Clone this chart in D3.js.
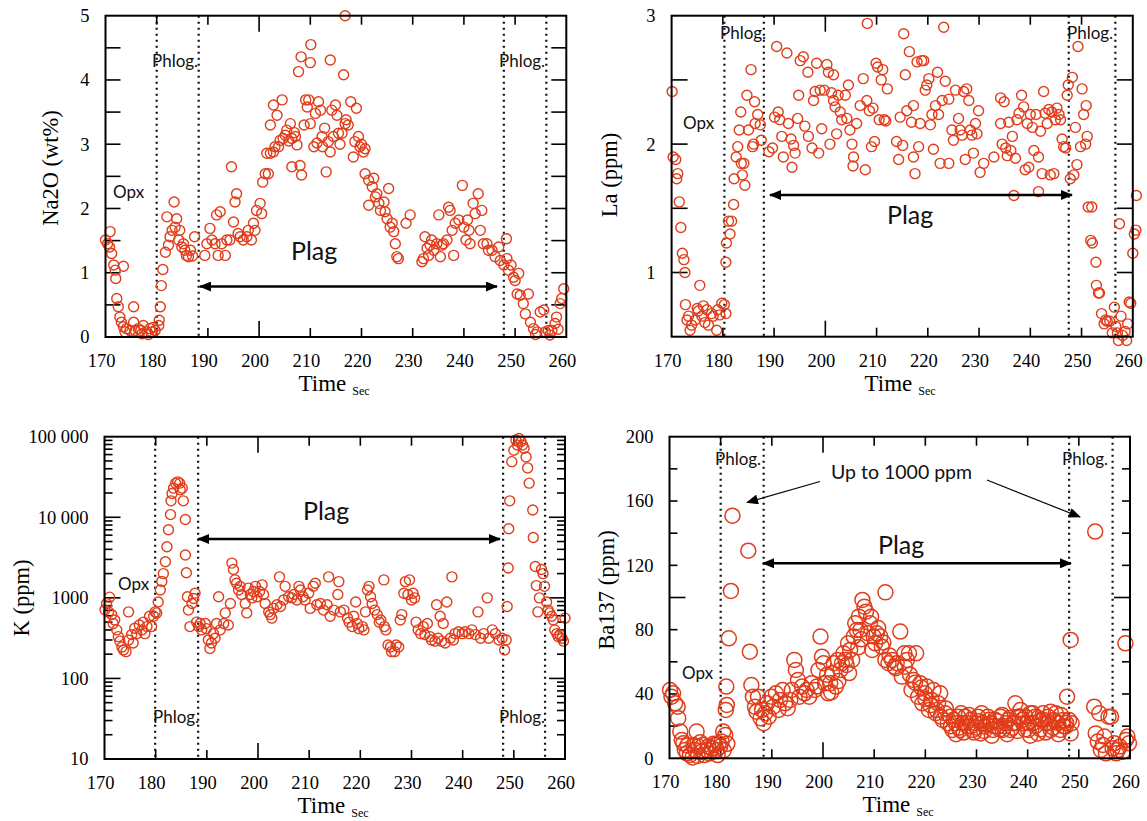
<!DOCTYPE html>
<html>
<head>
<meta charset="utf-8">
<script src="https://cdn.jsdelivr.net/npm/d3@7"></script>
<style>
  body { margin: 0; background: #fff; }
  svg { display: block; }
</style>
</head>
<body>
<div id="chart"></div>
<script>
// ---- data: [time (s), value] ----
const na2o = [[170.0,1.51],[170.4,1.45],[170.9,1.64],[170.8,1.40],[171.2,1.30],[171.6,1.12],[171.9,1.04],[172.0,0.91],[173.5,1.10],[172.2,0.60],[172.5,0.47],[172.8,0.31],[173.1,0.23],[173.5,0.16],[173.8,0.08],[174.1,0.13],[174.8,0.10],[175.5,0.47],[175.5,0.23],[175.8,0.10],[176.4,0.13],[177.1,0.05],[177.4,0.18],[178.1,0.08],[178.7,0.13],[179.0,0.08],[179.7,0.10],[176.9,0.10],[178.4,0.04],[179.3,0.15],
  [180.4,0.18],[180.5,0.26],[180.7,0.47],[180.9,0.80],[181.2,1.05],[181.7,1.32],[182.3,1.43],[182.0,1.87],[182.6,1.56],[183.0,1.66],[183.4,2.10],[183.6,1.71],[183.9,1.84],[184.3,1.51],[184.5,1.66],[184.9,1.40],[185.2,1.45],[185.5,1.35],[185.8,1.27],[186.2,1.25],[186.6,1.35],[187.0,1.26],[187.4,1.56],
  [189.4,1.27],[189.8,1.45],[190.4,1.69],[190.8,1.51],[191.4,1.45],[191.7,1.90],[192.4,1.95],[192.0,1.27],[192.7,1.45],[193.4,1.27],[193.7,1.51],[194.3,1.51],[194.6,2.65],[195.0,1.79],[195.3,2.10],[195.6,2.23],[195.9,1.61],[196.3,1.56],[196.9,1.51],[197.6,1.56],[197.9,1.66],[198.5,1.51],[198.9,1.77],[199.2,1.66],[199.5,1.97],[200.2,2.08],[200.5,1.92],[200.7,2.41],[201.2,2.54],[201.8,2.54],[201.5,2.86],[202.2,2.86],[202.8,2.88],[203.1,2.96],[203.8,2.96],[204.1,3.06],[204.7,3.09],[205.1,3.14],[205.4,3.22],[204.5,3.69],[202.8,3.61],[203.5,3.45],[202.2,3.30],
  [206.1,3.32],[206.4,3.09],[207.1,3.12],[207.4,2.99],[206.4,2.65],[208.0,2.67],[208.3,2.52],[207.7,4.13],[208.2,4.36],[210.1,4.55],[210.0,4.27],[208.8,3.30],[209.1,3.69],[209.7,3.69],[209.4,3.58],[210.0,3.32],[210.7,2.96],[211.0,3.48],[211.6,3.66],[212.0,3.53],[212.3,3.12],[212.4,2.96],[213.1,2.57],[213.5,3.04],[213.9,4.31],[213.9,2.88],[214.2,3.53],[214.5,3.12],[214.9,3.61],[215.2,3.45],[215.5,3.17],[216.2,3.17],[216.5,4.08],[216.8,5.0],[216.8,3.32],[217.4,3.30],[217.9,3.66],[218.4,2.80],[219.0,3.56],[219.4,3.12],[219.7,2.96],[220.4,2.88],[220.7,2.93],[205.8,3.05],[206.9,3.18],[211.3,3.02],[212.8,3.25],[215.8,3.00],[217.0,3.38],[218.7,3.04],[220.0,3.00],
  [220.7,2.54],[221.4,2.44],[221.4,2.05],[222.1,2.34],[222.4,2.47],[222.7,2.18],[223.0,2.23],[223.4,2.08],[223.7,1.97],[224.4,2.10],[224.6,1.95],[225.0,1.84],[225.3,2.31],[225.6,1.71],[226.0,1.77],[226.3,1.64],[226.6,1.45],[226.9,1.25],[227.2,1.22],[228.7,1.77],[229.5,1.90],
  [231.8,1.17],[232.1,1.22],[232.4,1.56],[232.8,1.38],[233.1,1.27],[233.4,1.43],[233.7,1.51],[234.1,1.35],[234.7,1.45],[235.1,1.90],[235.4,1.25],[235.7,1.43],[236.0,1.45],[236.7,1.51],[237.0,2.02],[237.3,1.97],[238.0,1.27],[237.7,1.66],[238.3,1.77],[239.0,1.82],[239.7,2.36],[240.0,1.71],[240.4,1.51],[240.7,1.82],[241.0,1.66],[241.2,1.45],[241.8,2.08],[242.2,1.92],[242.8,2.23],[243.2,1.66],[243.5,1.97],[243.8,1.45],[244.5,1.45],[244.8,1.35],[245.5,1.35],[246.1,1.25],[246.8,1.40],[247.1,1.19],[247.8,1.12],[248.3,1.53],[248.4,1.22],[248.7,1.04],[249.2,1.12],[249.7,0.93],[250.0,0.88],[250.7,0.99],[250.4,0.67],[251.0,0.65],[251.6,0.52],[252.0,0.36],[252.6,0.67],[253.0,0.23],[253.6,0.13],[254.3,0.08],[254.9,0.39],[255.6,0.42],[255.9,0.08],[256.5,0.10],[257.2,0.10],[257.8,0.21],[258.1,0.31],[258.8,0.52],[259.1,0.60],[259.5,0.75],[254.0,0.04],[256.8,0.03],[258.4,0.12]];

const la = [[170.1,2.41],[170.3,1.90],[170.8,1.88],[171.2,1.77],[171.0,1.73],[171.5,1.55],[171.8,1.35],[172.1,1.15],[172.4,1.10],[172.6,1.00],[172.7,0.75],[173.3,0.66],[173.0,0.63],[173.6,0.55],[173.9,0.59],[174.6,0.63],[175.0,0.72],[175.5,0.90],[175.2,0.70],[175.9,0.66],[176.2,0.74],[176.5,0.61],[176.9,0.71],[177.2,0.59],[177.8,0.68],[178.1,0.66],[178.8,0.55],[179.0,0.71],[179.4,0.67],[179.8,0.76],[180.3,0.75],[180.6,0.68],
  [180.6,1.08],[180.7,1.23],[181.4,1.30],[181.1,1.40],[181.7,1.40],[182.1,1.53],[182.2,1.73],[182.6,1.90],[182.9,1.98],[183.2,2.11],[183.5,2.25],[183.6,1.85],[184.1,1.85],[183.8,1.76],[184.3,1.68],[184.7,2.38],[185.0,2.11],[185.5,2.58],[185.8,1.98],[186.2,2.33],[186.0,2.00],[186.3,2.16],[186.8,2.23],[187.3,2.15],[187.5,2.03],
  [189.0,1.94],[189.7,1.97],[190.1,2.21],[190.5,2.76],[190.8,2.25],[191.1,2.19],[191.5,2.06],[191.8,1.90],[192.5,2.71],[192.8,2.16],[193.3,2.04],[193.5,1.82],[193.8,1.99],[194.1,1.93],[194.6,2.20],[194.8,2.38],[195.1,2.65],[195.7,2.68],[196.0,2.14],[196.6,2.56],[196.7,2.06],[197.4,1.97],[197.7,2.34],[198.0,2.41],[198.3,2.63],[198.7,1.93],[199.0,2.42],[199.3,2.12],[199.8,2.42],[200.3,2.62],[200.6,2.56],[200.9,2.00],[201.2,2.40],[201.6,2.34],[201.6,2.54],[201.9,2.29],[202.2,2.08],[202.5,2.38],[202.9,2.25],[203.2,2.19],[203.9,2.38],[204.2,2.20],[204.5,2.46],[204.8,2.11],[205.2,2.00],[205.5,1.90],[205.4,1.83],[206.1,2.16],[206.8,2.30],[207.4,2.51],[207.8,1.80],[208.1,2.34],[208.2,2.94],[208.6,2.26],[209.0,1.98],[209.3,2.28],[209.6,2.02],[209.9,2.63],[210.2,2.60],[210.5,2.19],[210.9,2.50],[211.2,2.58],[211.5,2.19],[212.1,2.43],[211.8,2.18],
  [213.9,2.02],[214.3,1.88],[214.6,2.21],[215.1,1.99],[215.3,2.86],[215.6,2.54],[215.9,2.26],[216.4,2.72],[216.8,2.17],[217.2,1.90],[217.2,2.30],[217.5,1.77],[217.9,2.64],[218.2,1.98],[218.5,2.16],[218.8,2.65],[219.2,2.65],[219.5,2.42],[219.8,2.46],[220.2,2.51],[220.5,2.15],[220.8,2.23],[221.1,1.96],[221.5,2.30],[221.9,2.56],[222.1,2.23],[222.4,1.85],[222.8,2.34],[223.1,2.91],[223.4,2.49],[224.1,1.85],[224.1,2.35],[224.7,2.11],[225.0,2.03],[225.4,2.42],[226.0,2.20],[226.3,2.11],[226.7,2.07],[227.0,2.41],[227.3,1.88],[227.6,2.43],[228.0,2.34],[228.3,2.11],[228.6,2.07],[228.9,1.93],[229.3,2.16],[229.6,2.08],[229.9,2.26],[230.2,1.78],[230.9,1.85],[232.9,1.90],
  [234.2,2.36],[234.2,2.16],[234.5,2.00],[234.9,2.33],[235.2,1.97],[235.5,1.91],[235.8,2.17],[236.2,1.95],[236.5,2.06],[236.8,1.60],[237.1,1.89],[237.4,2.19],[237.8,2.24],[238.3,2.38],[238.7,2.29],[239.0,1.80],[239.4,2.16],[239.7,1.82],[240.0,2.23],[240.4,2.13],[240.7,1.95],[241.1,2.23],[241.6,1.63],[241.6,1.90],[242.0,2.10],[242.3,1.77],[242.6,2.41],[242.9,2.24],[243.3,2.16],[243.6,2.27],[243.9,1.76],[244.2,2.25],[244.6,1.77],[244.9,2.19],[245.2,2.28],[245.6,2.23],[245.9,2.19],[246.2,2.04],[246.5,1.98],[246.9,1.97],[247.2,2.38],[247.4,2.46],[247.8,1.73],[248.2,2.52],[248.5,1.76],[248.8,2.13],[249.1,1.84],[249.3,2.76],[249.8,1.98],[250.1,2.43],[250.4,2.23],[250.8,2.00],[250.9,2.30],[251.1,2.06],
  [251.3,1.51],[252.0,1.51],[251.8,1.25],[252.1,1.23],[252.8,1.08],[252.9,0.90],[253.3,0.84],[253.5,0.84],[253.9,0.68],[254.4,0.60],[254.7,0.63],[255.0,0.62],[255.5,0.62],[256.0,0.53],[256.4,0.73],[256.7,0.58],[257.0,0.53],[257.4,1.38],[257.7,0.66],[258.0,0.51],[258.5,0.54],[259.0,0.60],[259.3,0.77],[259.6,0.76],[260.0,1.15],[260.3,1.30],[260.6,1.33],[260.7,1.60],[257.2,0.47],[258.8,0.47]];

const potassium = [[170.1,710],[170.4,850],[171.0,1020],[170.8,670],[171.4,620],[171.7,480],[172.0,530],[172.4,400],[172.7,330],[173.0,290],[173.4,245],[173.7,225],[174.2,215],[174.7,670],[174.7,300],[175.3,350],[175.6,275],[175.9,420],[176.3,360],[176.8,460],[177.3,400],[177.6,500],[177.9,360],[178.3,440],[178.8,590],[179.2,440],[179.6,590],[179.9,670],[180.2,650],[180.5,890],
  [180.9,1250],[181.2,1600],[181.5,2000],[181.9,2800],[182.2,4300],[182.5,7000],[182.9,10800],[183.0,16000],[183.2,19700],[183.5,23000],[183.9,26500],[184.3,27500],[184.7,26500],[184.8,22000],[185.2,23000],[185.4,16000],[185.8,9400],[185.8,3400],[186.0,2050],[186.2,1030],[186.4,705],[186.7,440],[187.1,850],[187.4,980],[187.7,1140],[188.0,500],[188.4,440],[188.7,480],
  [189.0,400],[189.7,480],[189.9,415],[190.3,300],[190.6,235],[190.9,275],[191.3,360],[191.6,315],[191.9,480],[192.3,1030],[192.6,400],[193.3,480],[193.6,650],[194.2,460],[194.6,850],[194.9,2700],[195.2,2250],[195.5,1670],[195.8,1520],[196.2,1250],[196.5,1390],[196.8,1100],[197.5,850],[197.8,650],[198.1,1320],[198.5,1100],[198.8,1000],[199.1,1200],[199.5,1390],[199.8,1030],[200.3,1200],[200.8,1450],[201.1,1100],[201.4,850],[202.1,670],[202.4,620],[202.7,560],[203.0,740],[203.7,820],[204.2,1820],[204.4,780],[205.0,940],[205.3,1390],[206.0,1030],[206.6,1000],[207.0,1100],[207.6,940],[208.0,1390],[208.3,1250],[208.8,1030],[209.2,940],[209.9,1140],[210.2,740],[210.8,1390],[211.2,1520],[211.5,820],[212.2,850],[212.8,705],[213.5,820],[213.8,1820],[214.1,590],[214.8,705],[215.6,1100],[215.8,1590],[216.1,670],[216.8,705],[217.5,560],[217.8,500],[218.4,440],[218.7,590],[219.1,890],[219.4,480],[219.7,415],[220.4,440],[220.7,400],
  [221.0,670],[221.4,1250],[221.7,1390],[222.0,1030],[222.3,850],[222.8,705],[223.3,620],[223.7,500],[224.0,530],[224.6,1670],[224.7,440],[225.0,400],[225.4,260],[225.9,245],[226.1,215],[226.7,215],[227.0,260],[227.5,245],[227.8,530],[228.1,620],[228.5,1140],[228.8,1590],[229.3,1100],[229.6,1670],[230.0,940],[230.3,1140],[230.6,1000],[230.9,500],[231.3,400],[231.8,360],[232.3,440],[232.6,350],[233.1,480],[233.6,330],[233.9,300],[234.6,290],[234.9,820],[235.2,315],[235.6,590],[235.9,290],[236.2,480],[236.6,275],[236.9,890],[237.6,315],[237.9,1820],[238.2,300],[238.5,360],[239.2,380],[239.9,360],[240.5,380],[241.2,360],[241.8,400],[242.5,350],[243.0,670],[243.5,315],[244.1,360],[244.8,1000],[245.1,315],[245.8,400],[246.4,360],[247.1,300],[247.7,315],[248.2,225],[248.5,300],
  [248.7,780],[248.9,2350],[249.0,7200],[249.2,16000],[249.6,49000],[250.0,68000],[250.4,91000],[250.7,79000],[251.0,95000],[251.4,87000],[251.7,79000],[252.0,72000],[252.4,56000],[252.7,41000],[253.0,26500],[253.7,12300],[253.8,5600],[254.2,2450],[254.4,1420],[254.7,670],[255.0,1000],[255.4,2250],[255.7,2000],[256.0,1390],[256.4,890],[256.7,705],[257.0,650],[257.4,590],[257.7,530],[258.0,400],[258.4,360],[258.7,330],[259.0,350],[259.4,315],[259.7,290],[260.0,560]];

const ba137 = [[170.1,42.5],[170.4,38.3],[170.7,40.4],[171.1,34.2],[171.6,32.1],[171.7,24.9],[172.1,16.6],[172.4,11.4],[172.7,9.3],[173.0,5.2],[173.4,3.1],[174.0,2.1],[174.7,8.3],[175.3,16.6],[175.0,5.2],[175.6,7.3],[176.3,4.1],[176.6,8.3],[177.3,5.2],[177.6,7.3],[178.3,6.2],[178.9,8.3],[179.2,5.2],[179.6,9.3],[179.9,7.3],[180.2,10.4],[180.5,16.6],[180.9,14.5],[173.5,8],[174.5,0.5],[175.5,1.5],[176.0,10],[176.8,2],[177.8,3],[178.6,9],[179.4,2],[180.6,5],[181.3,9],
  [181.0,30.1],[181.2,33.2],[181.1,44.6],[181.6,74.6],[182.0,104.1],[182.3,150.9],[185.4,129.1],[185.7,66.3],[186.0,45.6],[186.3,38.3],[186.7,32.1],[187.0,29.0],[187.3,38.3],[187.8,24.9],[188.1,30.1],[188.4,21.8],[188.7,28.0],
  [189.1,34.2],[189.4,25.9],[189.9,38.3],[190.3,32.1],[190.8,40.4],[191.3,30.1],[191.6,36.3],[192.1,42.5],[192.6,34.2],[193.1,31.1],[193.6,36.3],[193.9,42.5],[194.4,61.2],[194.7,54.9],[195.1,48.7],[195.4,38.3],[195.9,44.6],[196.4,40.4],[196.8,42.5],[197.3,38.3],[197.8,46.6],[198.4,42.5],[198.8,44.6],[199.1,54.9],[199.5,75.7],[199.8,63.2],[200.1,59.1],[200.4,46.6],[201.0,40.4],[201.4,46.6],[201.8,52.9],[202.1,59.1],[202.5,44.6],[202.9,61.2],[203.4,54.9],[203.7,59.1],[204.0,65.3],[204.4,61.2],[204.9,71.5],[205.3,67.4],[205.7,61.2],[206.0,75.7],[206.3,84.0],[206.6,79.8],[207.0,88.1],[207.3,79.8],[207.7,98.5],[208.1,94.3],[208.4,91.2],[208.8,77.7],[209.2,84.0],[209.6,67.4],[209.9,75.7],[210.2,71.5],[210.5,77.7],[211.2,75.7],[211.5,69.4],[212.2,103.2],[212.2,61.2],[212.8,59.1],[213.5,61.2],[214.0,57.0],[214.4,59.1],[215.1,78.8],[215.4,50.8],[215.9,65.3],[216.4,61.2],[216.8,65.3],[217.3,42.5],[217.7,48.7],[218.2,65.3],[218.6,38.3],[219.0,46.6],[219.4,34.2],[219.9,40.4],[220.3,44.6],[220.7,30.1],
  [200.8,52],[201.6,41],[203.0,48],[204.6,58],[205.1,53],[206.9,69],[207.5,74],[209.4,88],[210.8,81],[211.8,72],[213.0,64],[214.2,56],[216.0,57],[217.0,52],[218.0,47],[219.2,44],[220.0,37],[221.0,33],[222.2,30],[223.0,26],[224.0,31],
  [221.2,36.3],[221.6,42.5],[222.0,28.0],[222.5,34.2],[222.9,40.4],[223.4,23.8],[223.9,28.0],[224.4,21.8],[224.9,25.9],[225.3,17.6],[225.9,21.8],[226.4,25.9],[226.8,17.6],[227.3,21.8],[227.8,25.9],[228.3,19.7],[228.8,23.8],[229.3,17.6],[229.8,21.8],[230.3,25.9],[230.8,15.5],[231.2,21.8],[231.7,19.7],[232.2,25.9],[232.7,21.8],[233.2,17.6],[233.7,23.8],[234.2,19.7],[234.7,25.9],[235.1,17.6],[235.7,21.8],[236.2,23.8],[236.6,17.6],[237.1,21.8],[237.6,34.2],[238.1,25.9],[238.6,30.1],[239.1,21.8],[239.6,25.9],[240.1,17.6],[240.5,28.0],[241.0,21.8],[241.5,25.9],[242.0,15.5],[242.5,23.8],[243.0,28.0],[243.5,21.8],[244.0,25.9],[244.5,17.6],[245.0,23.8],[245.5,28.0],[246.0,21.8],[246.4,17.6],[246.9,23.8],[247.4,19.7],[247.7,38.3],[248.1,23.8],[248.4,73.6],[248.4,15.5],[248.6,21.8],
  [225.0,20],[225.5,24],[226.0,15],[226.6,19],[227.0,28],[227.5,16],[228.0,22],[228.5,27],[229.0,20],[229.5,16],[230.0,19],[230.5,23],[231.0,28],[231.5,17],[232.0,21],[232.5,24],[233.0,14],[233.5,20],[234.0,23],[234.5,18],[235.0,27],[235.5,20],[236.0,15],[236.5,25],[237.0,19],[237.5,22],[238.0,17],[238.5,26],[239.0,24],[239.5,18],[240.0,22],[240.5,14],[241.0,28],[241.5,20],[242.0,25],[242.5,18],[243.0,24],[243.5,16],[244.0,22],[244.5,29],[245.0,19],[245.5,23],[246.0,15],[246.5,27],[247.0,20],[247.5,22],
  [253.2,141.0],[253.0,32.1],[253.3,15.5],[253.7,10.4],[254.0,28.0],[254.3,5.2],[254.7,8.3],[255.0,13.5],[255.3,3.1],[255.8,25.9],[256.3,25.9],[256.6,6.2],[256.9,9.3],[257.3,3.1],[257.6,5.2],[258.0,7.3],[258.6,4.1],[259.1,71.5],[259.2,11.4],[259.5,13.5],[259.8,9.3]];

// tick values / labels
const timeTicks = [170, 180, 190, 200, 210, 220, 230, 240, 250, 260];
const naLabels = [0, 1, 2, 3, 4, 5];
const laLabels = [1, 2, 3];
const kLabels = [[10, "10"], [100, "100"], [1000, "1000"], [10000, "10 000"], [100000, "100 000"]];
const baLabels = [0, 40, 80, 120, 160, 200];

// mineral boundaries (dotted lines), per panel
const naBounds = [180.0, 188.2, 247.8, 256.1];
const laBounds = [180.3, 188.0, 247.5, 256.6];
const kBounds = [179.9, 188.3, 247.9, 256.1];
const baBounds = [180.0, 188.4, 248.1, 256.6];

const W = 1147, H = 821;
const red = "#e03d1a";
const serif = "'Liberation Serif', 'Times New Roman', serif";
const sans = "Lato, 'Open Sans', sans-serif";

const svg = d3.select("#chart").append("svg")
    .attr("width", W).attr("height", H)
    .attr("viewBox", `0 0 ${W} ${H}`);

const defs = svg.append("defs");
defs.append("marker")
    .attr("id", "head")
    .attr("markerUnits", "userSpaceOnUse")
    .attr("viewBox", "0 0 12 10")
    .attr("refX", 11).attr("refY", 5)
    .attr("markerWidth", 13).attr("markerHeight", 10)
    .attr("orient", "auto-start-reverse")
    .append("path").attr("d", "M0,0 L12,5 L0,10 z").attr("fill", "#000");

function panel(cfg) {
    const g = svg.append("g");
    const x = d3.scaleLinear().domain([170, 260]).range([cfg.left, cfg.left + cfg.w]);
    const y = cfg.y.range([cfg.top + cfg.h, cfg.top]);
    const bottom = cfg.top + cfg.h, right = cfg.left + cfg.w;

    // dotted boundaries
    g.selectAll(".bnd").data(cfg.bounds).enter().append("line")
        .attr("x1", d => x(d)).attr("x2", d => x(d))
        .attr("y1", cfg.top).attr("y2", bottom)
        .attr("stroke", "#111").attr("stroke-width", 2.2)
        .attr("stroke-dasharray", "2,4");

    // x ticks (bottom and top, inward)
    const xt = timeTicks.filter(t => t > 170 && t < 260);
    g.selectAll(".xtb").data(xt).enter().append("line")
        .attr("x1", d => x(d)).attr("x2", d => x(d))
        .attr("y1", bottom).attr("y2", d => bottom - (d === 200 ? 16 : 9))
        .attr("stroke", "#000").attr("stroke-width", 1.6);
    g.selectAll(".xtt").data(xt).enter().append("line")
        .attr("x1", d => x(d)).attr("x2", d => x(d))
        .attr("y1", cfg.top).attr("y2", d => cfg.top + (d === 200 ? 16 : 9))
        .attr("stroke", "#000").attr("stroke-width", 1.6);

    // y ticks (left and right, inward)
    cfg.yTicks.forEach(([v, len]) => {
        const yy = y(v);
        g.append("line").attr("x1", cfg.left).attr("x2", cfg.left + len)
            .attr("y1", yy).attr("y2", yy).attr("stroke", "#000").attr("stroke-width", 1.6);
        g.append("line").attr("x1", right).attr("x2", right - len)
            .attr("y1", yy).attr("y2", yy).attr("stroke", "#000").attr("stroke-width", 1.6);
    });

    // points
    g.selectAll(".pt").data(cfg.data).enter().append("circle")
        .attr("cx", d => x(d[0])).attr("cy", d => y(d[1]))
        .attr("r", cfg.r)
        .attr("fill", "none").attr("stroke", red).attr("stroke-width", cfg.sw || 1.4);

    // frame
    g.append("rect").attr("x", cfg.left).attr("y", cfg.top)
        .attr("width", cfg.w).attr("height", cfg.h)
        .attr("fill", "none").attr("stroke", "#000").attr("stroke-width", 2);

    // x tick labels
    g.selectAll(".xl").data(timeTicks).enter().append("text")
        .attr("x", d => x(d) - 4).attr("y", bottom + 30)
        .attr("text-anchor", "middle")
        .style("font-family", serif).style("font-size", "18.5px")
        .text(d => d);

    // y tick labels
    g.selectAll(".yl").data(cfg.yLabels).enter().append("text")
        .attr("x", cfg.left - 16).attr("y", d => y(d[0]))
        .attr("text-anchor", "end").attr("dy", "0.35em")
        .style("font-family", serif).style("font-size", "18.5px")
        .text(d => d[1]);

    // axis titles
    g.append("text")
        .attr("transform", `translate(${cfg.titleX},${cfg.titleY}) rotate(-90)`)
        .attr("text-anchor", "middle").attr("dy", "0.35em")
        .style("font-family", serif).style("font-size", "22.5px")
        .text(cfg.title);
    const tt = g.append("text")
        .attr("x", cfg.left + 193).attr("y", bottom + 54)
        .style("font-family", serif);
    tt.append("tspan").style("font-size", "23px").text("Time");
    tt.append("tspan").attr("dx", 6).attr("dy", 4).style("font-size", "12px").text("Sec");

    // annotations
    cfg.notes.forEach(n => {
        g.append("text").attr("x", n[1]).attr("y", n[2])
            .attr("text-anchor", n[4] || "start")
            .style("font-family", sans).style("font-size", n[3] + "px")
            .attr("fill", "#111")
            .text(n[0]);
    });
    cfg.arrows.forEach(a => {
        const ln = g.append("line")
            .attr("x1", a.x1).attr("y1", a.y1).attr("x2", a.x2).attr("y2", a.y2)
            .attr("stroke", "#000").attr("stroke-width", a.w)
            .attr("marker-end", "url(#head)");
        if (a.both) ln.attr("marker-start", "url(#head)");
    });
}

// top-left: Na2O
panel({
    left: 105.5, top: 15.7, w: 460.8, h: 321.3,
    y: d3.scaleLinear().domain([0, 5]),
    data: na2o, r: 5, bounds: naBounds,
    yTicks: d3.range(0.5, 5, 0.5).map(v => [v, 15]),
    yLabels: naLabels.map(v => [v, String(v)]),
    title: "Na2O (wt%)", titleX: 50, titleY: 168,
    notes: [["Phlog.", 152, 67, 17], ["Phlog.", 499, 67, 17], ["Opx", 113, 198, 17], ["Plag", 291, 260, 25]],
    arrows: [{ x1: 200, y1: 286.5, x2: 497, y2: 286.5, w: 2.5, both: true }]
});

// top-right: La
panel({
    left: 671.6, top: 15.7, w: 461.2, h: 321,
    y: d3.scaleLinear().domain([0.5, 3]),
    data: la, r: 5, bounds: laBounds,
    yTicks: d3.range(1, 3, 0.5).map(v => [v, 16]),
    yLabels: laLabels.map(v => [v, String(v)]),
    title: "La (ppm)", titleX: 609, titleY: 175,
    notes: [["Phlog.", 720, 39, 17], ["Phlog.", 1067, 39, 17], ["Opx", 683, 129, 17], ["Plag", 887, 224, 25]],
    arrows: [{ x1: 770, y1: 195, x2: 1072, y2: 195, w: 2.5, both: true }]
});

// bottom-left: K (log)
const kMinor = [];
[10, 100, 1000, 10000].forEach(dec => {
    for (let m = 2; m <= 9; m++) kMinor.push([dec * m, 8]);
});
panel({
    left: 104.5, top: 436.7, w: 460.5, h: 322.3,
    y: d3.scaleLog().domain([10, 100000]),
    data: potassium, r: 5, bounds: kBounds,
    yTicks: [[100, 16], [1000, 16], [10000, 16]].concat(kMinor),
    yLabels: kLabels,
    title: "K (ppm)", titleX: 21, titleY: 598,
    notes: [["Plag", 303, 520, 25], ["Opx", 118, 590, 17], ["Phlog.", 153, 723, 17], ["Phlog.", 499, 723, 17]],
    arrows: [{ x1: 198, y1: 539, x2: 500, y2: 539, w: 2.5, both: true }]
});

// bottom-right: Ba137
panel({
    left: 669.5, top: 436.7, w: 460.5, h: 321.6,
    y: d3.scaleLinear().domain([0, 200]),
    data: ba137, r: 7.5, sw: 1.5, bounds: baBounds,
    yTicks: d3.range(20, 200, 20).map(v => [v, v === 100 ? 16 : 8]),
    yLabels: baLabels.map(v => [v, String(v)]),
    title: "Ba137 (ppm)", titleX: 606, titleY: 590,
    notes: [["Phlog.", 715, 465, 17], ["Phlog.", 1062, 465, 17], ["Up to 1000 ppm", 831, 479, 19.5], ["Plag", 878, 554, 25], ["Opx", 682, 679, 17]],
    arrows: [
        { x1: 820, y1: 481.5, x2: 747, y2: 502.5, w: 1.2 },
        { x1: 987, y1: 480, x2: 1080, y2: 517, w: 1.2 },
        { x1: 763, y1: 563.3, x2: 1071, y2: 563.3, w: 2.5, both: true }
    ]
});
</script>
</body>
</html>
